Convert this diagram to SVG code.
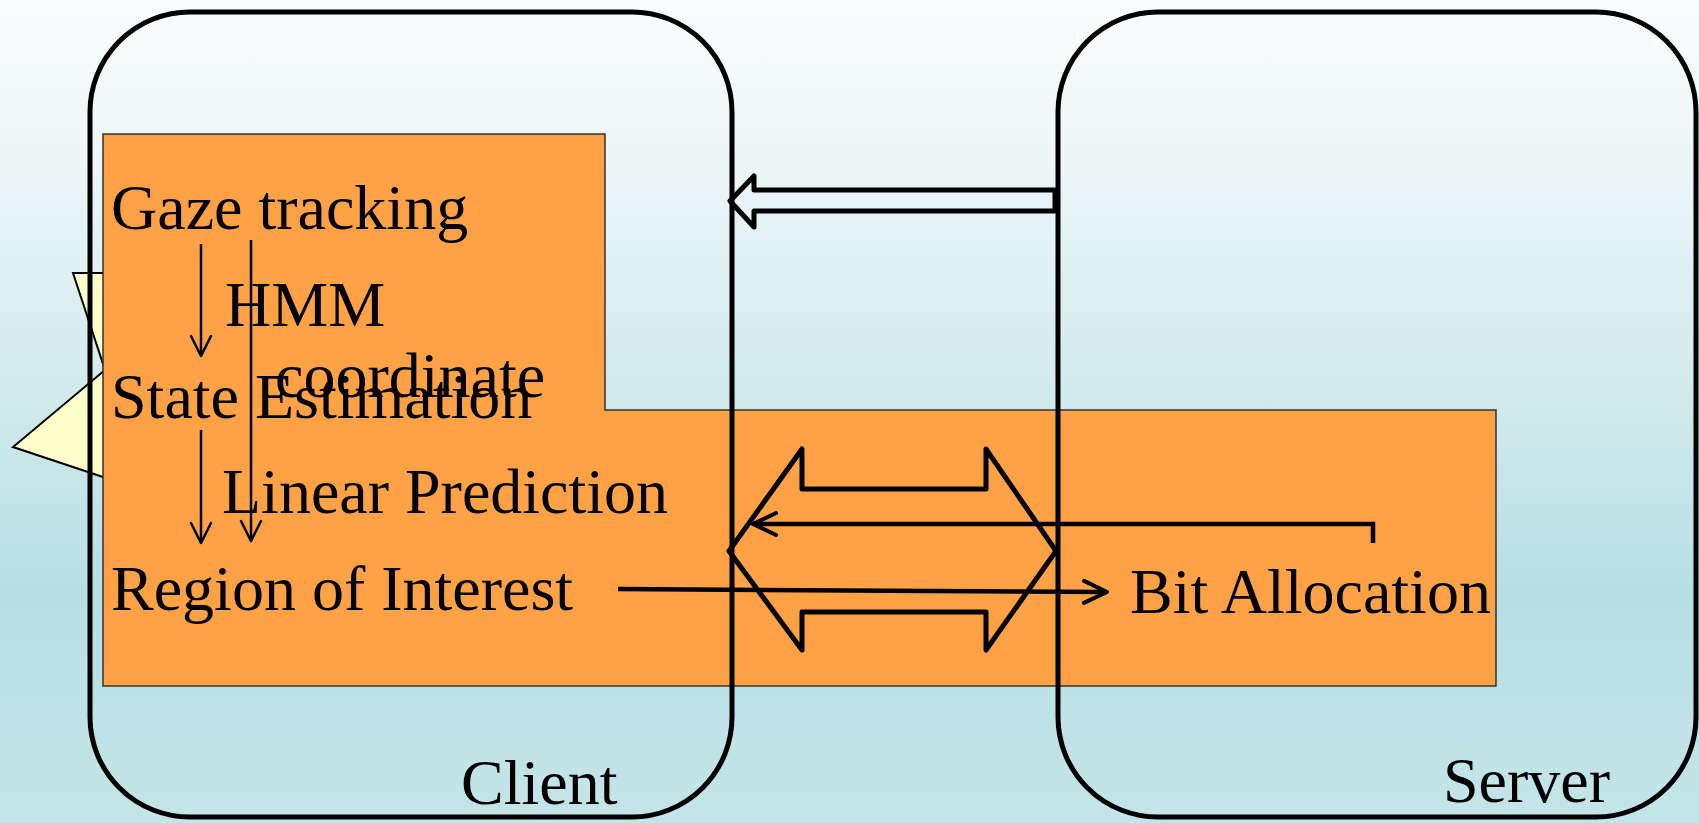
<svg xmlns="http://www.w3.org/2000/svg" width="1699" height="823" viewBox="0 0 1699 823">
  <defs>
    <linearGradient id="bg" x1="0" y1="0" x2="0" y2="1">
      <stop offset="0" stop-color="#fafcfd"/>
      <stop offset="0.15" stop-color="#f1f8f9"/>
      <stop offset="0.5" stop-color="#cfe9ec"/>
      <stop offset="0.72" stop-color="#b7dfe3"/>
      <stop offset="1" stop-color="#c4e5e8"/>
    </linearGradient>
    <marker id="open" viewBox="0 0 12 12" refX="11" refY="6" markerWidth="12" markerHeight="12" markerUnits="userSpaceOnUse" orient="auto">
      <path d="M1,1 L11,6 L1,11" fill="none" stroke="#000" stroke-width="2" stroke-linecap="round" stroke-linejoin="round"/>
    </marker>
    <marker id="openBig" viewBox="0 0 28 28" refX="26" refY="14" markerWidth="28" markerHeight="28" markerUnits="userSpaceOnUse" orient="auto">
      <path d="M3,3 L26,14 L3,25" fill="none" stroke="#000" stroke-width="4" stroke-linecap="round" stroke-linejoin="round"/>
    </marker>
    <marker id="openThin" viewBox="0 0 24 24" refX="22" refY="12" markerWidth="24" markerHeight="24" markerUnits="userSpaceOnUse" orient="auto">
      <path d="M2,2 L22,12 L2,22" fill="none" stroke="#000" stroke-width="2.5" stroke-linecap="round" stroke-linejoin="round"/>
    </marker>
    <style>
      .lbl { font-family: "Liberation Serif", "Times New Roman", serif; font-size: 64px; fill: #000; }
      .frame { fill: none; stroke: #000; stroke-width: 5; }
      .block { fill: none; stroke: #000; stroke-width: 5; stroke-linejoin: round; }
      .thin { fill: none; stroke: #000; stroke-width: 2.5; }
      .thick { fill: none; stroke: #000; stroke-width: 4.5; }
    </style>
  </defs>

  <!-- backdrop -->
  <rect x="0" y="0" width="1699" height="823" fill="url(#bg)"/>

  <!-- callout bubble, mostly hidden behind the panel -->
  <g id="callout">
    <polygon points="73,273 300,273 300,500 130,486 13,447 105,370" fill="#ffffcc" stroke="#000" stroke-width="2"/>
  </g>

  <!-- shared orange panel -->
  <g id="panel">
    <polygon points="103,134 605,134 605,410 1496,410 1496,686 103,686" fill="#ffa245" stroke="#333" stroke-width="1.5"/>
  </g>

  <!-- client and server frames -->
  <g id="client">
    <rect class="frame" x="90" y="12" width="642" height="805" rx="100" ry="100"/>
    <text class="lbl" x="461" y="804">Client</text>
  </g>
  <g id="server">
    <rect class="frame" x="1058" y="12" width="638" height="805" rx="100" ry="100"/>
    <text class="lbl" x="1443" y="802">Server</text>
  </g>

  <!-- step labels -->
  <g id="gaze-tracking"><text class="lbl" x="111" y="229">Gaze tracking</text></g>
  <g id="hmm"><text class="lbl" x="225" y="326">HMM</text></g>
  <g id="coordinate"><text class="lbl" x="275" y="397">coordinate</text></g>
  <g id="state-estimation"><text class="lbl" x="111" y="418">State Estimation</text></g>
  <g id="linear-prediction"><text class="lbl" x="222" y="513">Linear Prediction</text></g>
  <g id="region-of-interest"><text class="lbl" x="111" y="610">Region of Interest</text></g>
  <g id="bit-allocation"><text class="lbl" x="1130" y="613">Bit Allocation</text></g>

  <!-- connectors -->
  <g id="connectors">
    <!-- server to client (hollow block arrow) -->
    <polygon class="block" points="730,201 754,176 754,190 1055,190 1055,211 754,211 754,227"/>
    <!-- two-way exchange (hollow double block arrow) -->
    <polygon class="block" points="729,551 802,449 802,489 986,489 986,449 1056,551 986,650 986,612 802,612 802,650"/>
    <!-- gaze tracking to state estimation -->
    <line class="thin" x1="201" y1="244" x2="201" y2="356" marker-end="url(#openThin)"/>
    <!-- gaze tracking to region of interest (coordinate / linear prediction) -->
    <line class="thin" x1="251" y1="240" x2="251" y2="541" marker-end="url(#openThin)"/>
    <!-- state estimation to region of interest -->
    <line class="thin" x1="201" y1="430" x2="201" y2="543" marker-end="url(#openThin)"/>
    <!-- bit allocation feedback to client -->
    <polyline class="thick" points="1373,543 1373,524 753,524" marker-end="url(#openBig)"/>
    <!-- region of interest to bit allocation -->
    <line class="thick" x1="618" y1="589" x2="1107" y2="592" marker-end="url(#openBig)"/>
  </g>
</svg>
